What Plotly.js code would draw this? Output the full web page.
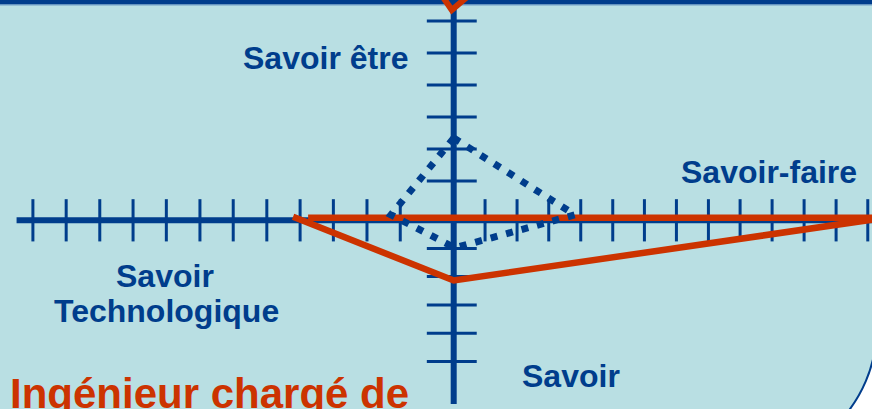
<!DOCTYPE html>
<html>
<head>
<meta charset="utf-8">
<script src="https://cdn.plot.ly/plotly-3.0.1.min.js"></script>
<style>
  html, body { margin: 0; padding: 0; background: #b9dfe3; }
  #chart { width: 872px; height: 409px; }
</style>
</head>
<body>
<div id="chart"></div>
<script>
// ---- Data (graduation units, origin at the crossing of the axes) ----
const axisLabels = ['Savoir être', 'Savoir-faire', 'Savoir', 'Savoir', 'Technologique'];
const profileTitle = 'Ingénieur chargé de';

// graduations drawn on the horizontal axis
const xTicksLeft  = [-1.67, -2.71, -3.76, -4.80, -5.84, -6.89, -7.93, -8.98, -10.02, -11.06, -12.11, -13.15];
const xTicksRight = [0.98, 1.98, 2.97, 3.97, 4.97, 5.96, 6.96, 7.96, 8.95, 9.95, 10.95, 11.95, 12.94];
// graduations drawn on the vertical axis
const yTicksUp    = [6.23, 5.23, 4.23, 3.23, 2.23, 1.23];
const yTicksDown  = [-0.88, -1.76, -2.65, -3.53, -4.41];
// extent of the two axis lines
const axisXExtent = [-13.66, 13.6];
const axisYExtent = [-5.74, 7.2];

// red profile (solid)
const redX = [-4.55, 13.48, 0, -5.02];
const redY = [0.08, 0.08, -1.88, 0.11];
// red stroke visible at the top edge
const redTopX = [-0.42, -0.06, 0.56];
const redTopY = [7.1, 6.57, 7.1];

// blue profile (dotted)
const dotX = [0, 3.79, 0.04, -1.96, 0];
const dotY = [2.57, 0.17, -0.86, 0.17, 2.57];

// ---- Styles ----
const BLUE = '#003d8c';
const RED = '#cc3300';
const BG = '#b9dfe3';
const FONT = 'Liberation Sans, Arial, sans-serif';

// ---- Build tick segments ----
const hTickX = [], hTickY = [];
xTicksLeft.concat(xTicksRight).forEach(t => { hTickX.push(t, t, null); hTickY.push(0.66, -0.66, null); });
const vTickX = [], vTickY = [];
yTicksUp.concat(yTicksDown).forEach(t => { vTickX.push(-0.84, 0.72, null); vTickY.push(t, t, null); });

const traces = [
  { type: 'scatter', mode: 'lines', x: [axisXExtent[0], axisXExtent[1], null, 0, 0],
    y: [0, 0, null, axisYExtent[1], axisYExtent[0]],
    line: { color: BLUE, width: 6 }, hoverinfo: 'skip' },
  { type: 'scatter', mode: 'lines', x: hTickX, y: hTickY,
    line: { color: BLUE, width: 3 }, hoverinfo: 'skip' },
  { type: 'scatter', mode: 'lines', x: vTickX, y: vTickY,
    line: { color: BLUE, width: 3 }, hoverinfo: 'skip' },
  { type: 'scatter', mode: 'lines', x: redX, y: redY,
    line: { color: RED, width: 6.5 }, hoverinfo: 'skip' },
  { type: 'scatter', mode: 'lines', x: redTopX, y: redTopY,
    line: { color: RED, width: 6 }, hoverinfo: 'skip' },
  { type: 'scatter', mode: 'lines', x: dotX, y: dotY,
    line: { color: BLUE, width: 7, dash: '7px,9px' }, hoverinfo: 'skip' }
];

// ---- Decorative frame (pixel helpers for the slide frame only) ----
const W = 872, H = 409;
const px = v => (v / W).toFixed(4);
const py = v => (1 - v / H).toFixed(4);
const cx = 739.2, cy = 327.7, r = 137.4, k = 0.5523;
const arc = `M${px(cx + r)},${py(cy)} C${px(cx + r)},${py(cy + k * r)} ${px(cx + k * r)},${py(cy + r)} ${px(cx)},${py(cy + r)}`;
const outside = arc + ` L${px(920)},${py(cy + r)} L${px(920)},${py(cy)} Z`;

const layout = {
  width: W, height: H,
  margin: { l: 0, r: 0, t: 0, b: 0, pad: 0 },
  paper_bgcolor: BG,
  plot_bgcolor: 'rgba(0,0,0,0)',
  showlegend: false,
  xaxis: { range: [-453.7 / 32, (W - 453.7) / 32], visible: false, fixedrange: true },
  yaxis: { range: [(220.3 - H) / 32, 220.3 / 32], visible: false, fixedrange: true },
  shapes: [
    { type: 'rect', xref: 'paper', yref: 'paper', x0: -0.01, x1: 1.01, y0: py(4.6), y1: 1.02,
      fillcolor: BLUE, line: { width: 0 }, layer: 'below' },
    { type: 'rect', xref: 'paper', yref: 'paper', x0: -0.01, x1: 1.01, y0: py(5.6), y1: py(4.6),
      fillcolor: '#6f9cc8', line: { width: 0 }, layer: 'below' },
    { type: 'path', xref: 'paper', yref: 'paper', path: outside,
      fillcolor: '#ffffff', line: { width: 0 }, layer: 'above' },
    { type: 'path', xref: 'paper', yref: 'paper', path: arc,
      line: { color: BLUE, width: 2 }, layer: 'above' }
  ],
  annotations: [
    { text: axisLabels[0], x: -1.37, y: 5.07, xanchor: 'right', yanchor: 'middle' },
    { text: axisLabels[1], x: 12.67, y: 1.51, xanchor: 'right', yanchor: 'middle' },
    { text: axisLabels[2], x: 3.65, y: -4.85, xanchor: 'center', yanchor: 'middle' },
    { text: axisLabels[3], x: -9.01, y: -1.74, xanchor: 'center', yanchor: 'middle' },
    { text: axisLabels[4], x: -8.99, y: -2.83, xanchor: 'center', yanchor: 'middle' }
  ].map(a => Object.assign(a, {
    xref: 'x', yref: 'y', showarrow: false,
    font: { family: FONT, size: 32, color: BLUE, weight: 'bold' }
  })).concat([
    { text: profileTitle, x: -13.93, y: -5.41, xref: 'x', yref: 'y', xanchor: 'left', yanchor: 'middle',
      showarrow: false, font: { family: FONT, size: 42, color: RED, weight: 'bold' } }
  ])
};

Plotly.newPlot('chart', traces, layout, { staticPlot: true, displayModeBar: false });
</script>
</body>
</html>
